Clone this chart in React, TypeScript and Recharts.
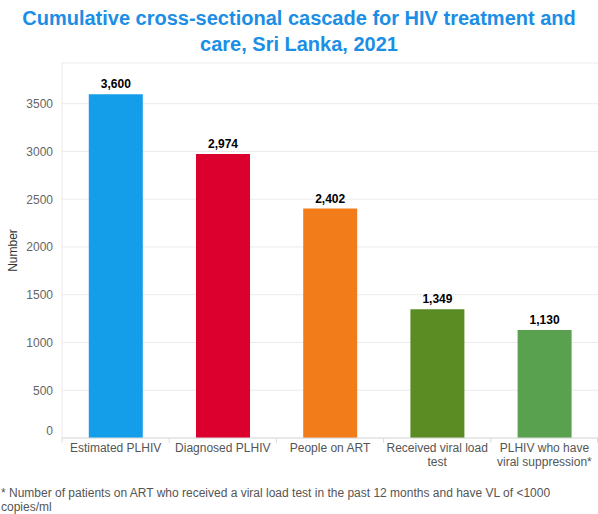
import React from "react";
import { BarChart, Bar, XAxis, YAxis, CartesianGrid, LabelList, Cell } from "recharts";

const categories = [
  "Estimated PLHIV",
  "Diagnosed PLHIV",
  "People on ART",
  "Received viral load\ntest",
  "PLHIV who have\nviral suppression*",
];
const values = [3600, 2974, 2402, 1349, 1130];
const colors = ["#149de9", "#dc002e", "#f27c1a", "#5b8c23", "#59a14f"];
const yTicks = [0, 500, 1000, 1500, 2000, 2500, 3000, 3500];

const data = categories.map((c, i) => ({ name: c, value: values[i] }));

const FONT = "'Liberation Sans', Arial, Helvetica, sans-serif";
const BAND = (598 - 62) / categories.length;

const XTick = (props: any) => {
  const { x, y, payload, index } = props;
  const lines = String(payload.value).split("\n");
  return (
    <g>
      <line x1={x - BAND / 2} x2={x - BAND / 2} y1={y - 8} y2={y - 3} stroke="#dcdcdc" />
      {index === categories.length - 1 && (
        <line x1={x + BAND / 2 - 0.5} x2={x + BAND / 2 - 0.5} y1={y - 8} y2={y - 3} stroke="#dcdcdc" />
      )}
      <text x={x} y={y + 6} textAnchor="middle" fill="#555" fontSize={12} fontFamily={FONT}>
        {lines.map((l, i) => (
          <tspan key={i} x={x} dy={i === 0 ? 0 : 13.5}>
            {l}
          </tspan>
        ))}
      </text>
    </g>
  );
};

const YTick = (props: any) => {
  const { x, y, payload } = props;
  const off = payload.value === 0 ? -7.5 : 0;
  return (
    <text x={x - 1} y={y + off} dy={4.5} textAnchor="end" fill="#666" fontSize={12} fontFamily={FONT}>
      {payload.value}
    </text>
  );
};

export default function App() {
  return (
    <div style={{ position: "absolute", left: 0, top: 0, width: 598, height: 514, background: "#fff", fontFamily: FONT }}>
      <div
        style={{
          position: "absolute",
          top: 5,
          left: 0,
          width: 598,
          textAlign: "center",
          color: "#1b8ee6",
          fontWeight: "bold",
          fontSize: 20,
          lineHeight: "26px",
        }}
      >
        Cumulative cross-sectional cascade for HIV treatment and
        <br />
        care, Sri Lanka, 2021
      </div>
      <div style={{ position: "absolute", top: 0, left: 0 }}>
        <BarChart
          width={598}
          height={514}
          data={data}
          margin={{ top: 63, right: 0, left: 0, bottom: 36 }}
          barCategoryGap="25%"
        >
          <CartesianGrid vertical={false} stroke="#ebebeb" />
          <XAxis
            dataKey="name"
            interval={0}
            height={40}
            tickLine={false}
            axisLine={{ stroke: "#dcdcdc" }}
            tick={<XTick />}
          />
          <YAxis
            width={62}
            domain={[0, 3926]}
            ticks={yTicks}
            tickLine={false}
            axisLine={{ stroke: "#ebebeb" }}
            tick={<YTick />}
            label={{
              value: "Number",
              angle: -90,
              position: "insideLeft",
              offset: 13,
              style: { fill: "#333", fontSize: 12, fontFamily: FONT, textAnchor: "middle" },
            }}
          />
          <Bar dataKey="value" isAnimationActive={false}>
            {data.map((d, i) => (
              <Cell key={i} fill={colors[i]} />
            ))}
            <LabelList
              dataKey="value"
              position="top"
              offset={6}
              formatter={(v: any) => Number(v).toLocaleString("en-US")}
              style={{ fill: "#000", fontSize: 12, fontWeight: "bold", fontFamily: FONT }}
            />
          </Bar>
        </BarChart>
      </div>
      <div
        style={{
          position: "absolute",
          top: 487,
          left: 1,
          width: 590,
          color: "#555",
          fontSize: 12,
          lineHeight: "13.5px",
        }}
      >
        * Number of patients on ART who received a viral load test in the past 12 months and have VL of &lt;1000 copies/ml
      </div>
    </div>
  );
}
